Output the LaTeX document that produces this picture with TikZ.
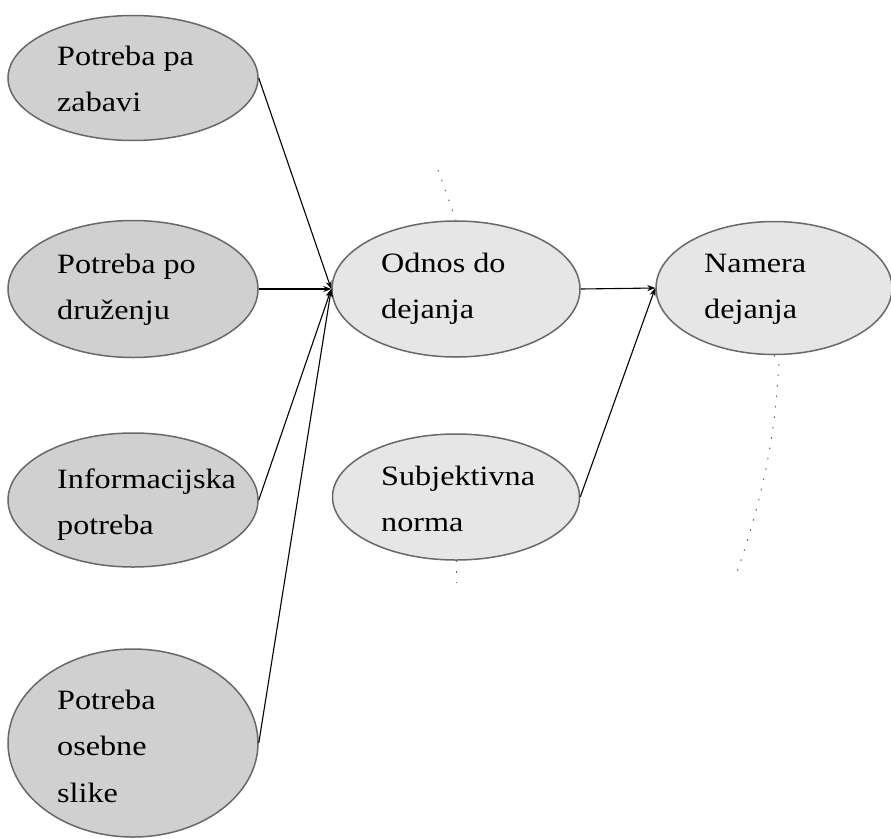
\documentclass[tikz,border=0pt]{standalone}
\usepackage{fontspec}
\setmainfont{Liberation Serif}[FakeStretch=1.15]
\usetikzlibrary{shapes.geometric,arrows.meta}
\definecolor{darkfill}{HTML}{D0D0D0}
\definecolor{lightfill}{HTML}{E6E6E6}
\definecolor{rim}{HTML}{686868}
\tikzset{
  oval/.style={ellipse, draw=rim, line width=1.5pt, inner sep=0pt},
  needbox/.style={oval, fill=darkfill},
  midbox/.style={oval, fill=lightfill},
  lbl/.style={anchor=base west, inner sep=0pt, font={\fontsize{28pt}{46.5pt}\selectfont}},
  conn/.style={line width=1.1pt, -{Stealth[length=8pt,width=6pt]}},
  faint/.style={line width=1pt, black!60, dash pattern=on 1.5pt off 9pt}
}
\newcommand{\twolines}[1]{\begin{tabular}[t]{@{}l@{}}#1\end{tabular}}
\begin{document}
\begin{tikzpicture}[x=1pt,y=-1pt]
\useasboundingbox (0,0) rectangle (891,838);
% left column
\node[needbox, minimum width=250pt, minimum height=125pt] (e1) at (133,78) {};
\node[needbox, minimum width=250pt, minimum height=137pt] (e2) at (133,289) {};
\node[needbox, minimum width=250pt, minimum height=134pt] (e3) at (133,500) {};
\node[needbox, minimum width=250pt, minimum height=188pt] (e4) at (133,743) {};
% middle and right
\node[midbox, minimum width=248pt, minimum height=136pt] (od) at (456,289) {};
\node[midbox, minimum width=247pt, minimum height=126pt] (sn) at (456,497) {};
\node[midbox, minimum width=236pt, minimum height=133pt] (nd) at (774,288) {};
% labels
\node[lbl] (t1) at (57,65) {\twolines{Potreba pa\\zabavi}};
\node[lbl] (t2) at (57,273) {\twolines{Potreba po\\druženju}};
\node[lbl] (t3) at (57,488) {\twolines{Informacijska\\potreba}};
\node[lbl] (t4) at (57,709) {\twolines{Potreba\\osebne\\slike}};
\node[lbl] (to) at (381,272) {\twolines{Odnos do\\dejanja}};
\node[lbl] (ts) at (381,485) {\twolines{Subjektivna\\norma}};
\node[lbl] (tn) at (704,272) {\twolines{Namera\\dejanja}};
% connectors
\draw[conn] (e1.east) -- (od.west);
\draw[conn] (e2.east) -- (od.west);
\draw[conn] (e3.east) -- (od.west);
\draw[conn] (e4.east) -- (od.west);
\draw[conn] (od.east) -- (nd.west);
\draw[conn] (sn.east) -- (nd.west);
% faint dotted traces
\coordinate (f1a) at (438,170);
\coordinate (f2a) at (779,362);
\coordinate (f2b) at (736,575);
\coordinate (f3a) at (456,590);
\draw[faint] (f1a) -- (od.north);
\draw[faint] (nd.south) -- (f2a) .. controls (775,440) and (762,500) .. (f2b);
\draw[faint] (sn.south) -- (f3a);
\end{tikzpicture}
\end{document}
